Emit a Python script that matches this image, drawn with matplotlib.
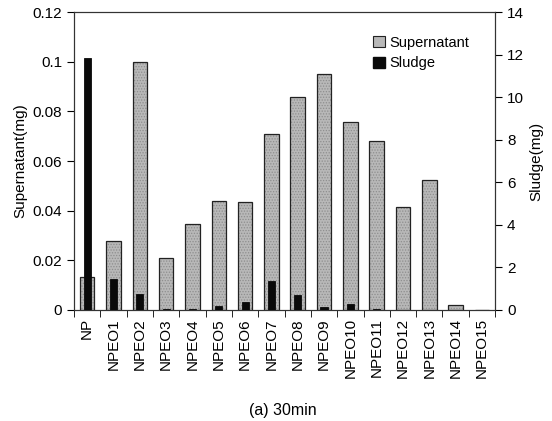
import numpy as np
import matplotlib.pyplot as plt
from matplotlib.patches import Patch

plt.rcParams['font.family'] = ['Liberation Sans', 'DejaVu Sans']
plt.rcParams['hatch.linewidth'] = 0.6

# data
labels = ['NP'] + ['NPEO%d' % i for i in range(1, 16)]
supernatant = [0.0133, 0.0278, 0.0999, 0.0209, 0.0346, 0.0439, 0.0435, 0.0709,
               0.0858, 0.0950, 0.0757, 0.0680, 0.0415, 0.0523, 0.0020, 0.0]
sludge = [11.84, 1.46, 0.75, 0.04, 0.04, 0.20, 0.35, 1.36,
          0.70, 0.15, 0.28, 0.05, 0.0, 0.0, 0.0, 0.0]

x = np.arange(len(labels))

fig = plt.figure(figsize=(5.52, 4.21), dpi=100)
ax = fig.add_axes([0.134, 0.264, 0.763, 0.707])
ax2 = ax.twinx()

# stippled grey fill, then dark outline
ax.bar(x, supernatant, width=0.55, color='#b8b8b8', edgecolor='#8e8e8e',
       linewidth=0, hatch='......', zorder=2)
ax.bar(x, supernatant, width=0.55, fill=False, edgecolor='#222222',
       linewidth=0.9, zorder=2.5)
ax2.bar(x, sludge, width=0.27, color='#0a0a0a', edgecolor='#0a0a0a',
        linewidth=0.6, zorder=3)

ax.set_xlim(-0.5, len(labels) - 0.5)
ax.set_ylim(0, 0.12)
ax2.set_ylim(0, 14)
ax.set_yticks(np.arange(0, 0.121, 0.02))
ax.set_yticklabels(['0', '0.02', '0.04', '0.06', '0.08', '0.1', '0.12'])
ax2.set_yticks(np.arange(0, 15, 2))

ax.set_xticks(x)
ax.set_xticklabels(labels, rotation=90)
ax.tick_params(axis='x', length=0, pad=6)
ax.set_xticks(np.arange(-0.5, len(labels)), minor=True)
ax.tick_params(axis='x', which='minor', length=5, direction='out')

ax.tick_params(axis='y', labelsize=11, length=5)
ax2.tick_params(axis='y', labelsize=11, length=5)
ax.tick_params(axis='x', labelsize=11)

ax.set_ylabel('Supernatant(mg)', fontsize=11)
ax2.set_ylabel('Sludge(mg)', fontsize=11)

for a in (ax, ax2):
    for s in a.spines.values():
        s.set_color('#333333')

handles = [Patch(facecolor='#b8b8b8', edgecolor='#222222', linewidth=0.8),
           Patch(facecolor='#0a0a0a', edgecolor='#0a0a0a')]
ax2.legend(handles, ['Supernatant', 'Sludge'], loc='upper right',
           bbox_to_anchor=(0.97, 0.965), frameon=False, fontsize=10.5,
           handlelength=0.8, handleheight=0.8, handletextpad=0.3,
           labelspacing=0.45)

fig.text(0.513, 0.015, '(a) 30min', ha='center', fontsize=11.5)

fig.savefig('out.png', dpi=100)
